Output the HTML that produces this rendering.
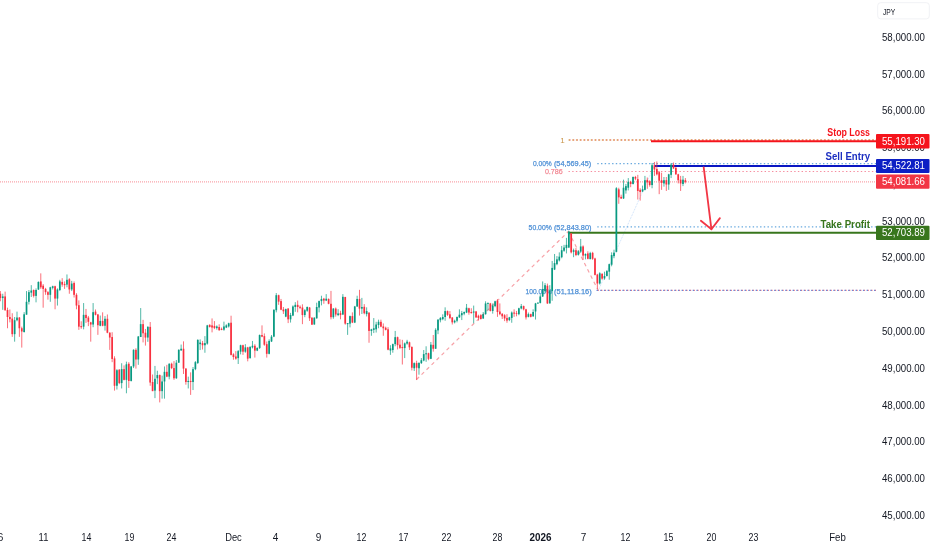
<!DOCTYPE html>
<html><head><meta charset="utf-8"><title>Chart</title>
<style>html,body{margin:0;padding:0;background:#fff}svg{display:block}text{font-family:"Liberation Sans",sans-serif}</style></head><body>
<svg width="932" height="550" viewBox="0 0 932 550">
<rect width="932" height="550" fill="#ffffff"/>
<line x1="0" y1="181.9" x2="876" y2="181.9" stroke="#f23645" stroke-width="1.4" stroke-dasharray="1 1" opacity="0.45"/>
<line x1="416.5" y1="379.5" x2="568.6" y2="231.3" stroke="#f7a1a7" stroke-width="1.2" stroke-dasharray="3.6 3.4"/>
<line x1="568.6" y1="231.7" x2="598.3" y2="290.5" stroke="#f7a1a7" stroke-width="1.2" stroke-dasharray="3.6 3.4"/>
<line x1="598.3" y1="290.5" x2="655" y2="164" stroke="#9cc4f5" stroke-width="0.6" stroke-dasharray="0.8 0.9"/>
<line x1="568.5" y1="140" x2="876" y2="140" stroke="#f0505a" stroke-width="1.2" stroke-dasharray="1.4 2.3" stroke-dashoffset="-0.7"/>
<line x1="568.5" y1="140" x2="876" y2="140" stroke="#c9982a" stroke-width="1.2" stroke-dasharray="1.4 2.3"/>
<line x1="597.3" y1="163.6" x2="876" y2="163.6" stroke="#4f9bd9" stroke-width="1.2" stroke-dasharray="1.4 2.3" opacity="0.85"/>
<line x1="568.5" y1="171.5" x2="876" y2="171.5" stroke="#f57a8f" stroke-width="1.2" stroke-dasharray="1.4 2.3" opacity="0.85"/>
<line x1="597.3" y1="226.9" x2="876" y2="226.9" stroke="#4f9bd9" stroke-width="1.2" stroke-dasharray="1.4 2.3" opacity="0.85"/>
<line x1="596.5" y1="290.3" x2="876" y2="290.3" stroke="#f0606e" stroke-width="1.2" stroke-dasharray="1.4 2.3" opacity="0.85" stroke-dashoffset="-0.8"/>
<line x1="596.5" y1="290.4" x2="876" y2="290.4" stroke="#4f7fd9" stroke-width="1.2" stroke-dasharray="1.4 2.3" opacity="0.85"/>
<text x="560.2" y="142.8" font-size="8" fill="#c9954a" text-anchor="start" font-weight="normal">1</text>
<text x="532.9" y="166.0" font-size="8" fill="#4d8fd6" text-anchor="start" font-weight="normal" textLength="18.9" lengthAdjust="spacingAndGlyphs" stroke-width="0.25" stroke="#4d8fd6">0.00%</text>
<text x="553.9" y="166.0" font-size="8" fill="#4d8fd6" text-anchor="start" font-weight="normal" textLength="37.4" lengthAdjust="spacingAndGlyphs" stroke-width="0.25" stroke="#4d8fd6">(54,569.45)</text>
<text x="544.9" y="173.7" font-size="8" fill="#f28b96" text-anchor="start" font-weight="normal" textLength="17.8" lengthAdjust="spacingAndGlyphs" stroke-width="0.25" stroke="#f28b96">0.786</text>
<text x="528.6" y="229.8" font-size="8" fill="#4d8fd6" text-anchor="start" font-weight="normal" textLength="23.2" lengthAdjust="spacingAndGlyphs" stroke-width="0.25" stroke="#4d8fd6">50.00%</text>
<text x="553.9" y="229.8" font-size="8" fill="#4d8fd6" text-anchor="start" font-weight="normal" textLength="37.6" lengthAdjust="spacingAndGlyphs" stroke-width="0.25" stroke="#4d8fd6">(52,843.80)</text>
<text x="525.6" y="293.6" font-size="8" fill="#4d8fd6" text-anchor="start" font-weight="normal" textLength="26.2" lengthAdjust="spacingAndGlyphs" stroke-width="0.25" stroke="#4d8fd6">100.00%</text>
<text x="554.1" y="293.6" font-size="8" fill="#4d8fd6" text-anchor="start" font-weight="normal" textLength="37.6" lengthAdjust="spacingAndGlyphs" stroke-width="0.25" stroke="#4d8fd6">(51,118.16)</text>
<line x1="651" y1="141.3" x2="876" y2="141.3" stroke="#f5141c" stroke-width="1.9"/>
<line x1="655" y1="166" x2="876" y2="166" stroke="#0a16c2" stroke-width="2.1"/>
<line x1="568.6" y1="232.7" x2="876" y2="232.7" stroke="#38761d" stroke-width="2.1"/>
<g><line x1="0.36" y1="291.07" x2="0.36" y2="301.26" stroke="#f8303f" stroke-width="0.7"/><rect x="-0.49" y="293.75" width="1.7" height="4.29" fill="#f8303f"/><line x1="2.74" y1="293.75" x2="2.74" y2="309.85" stroke="#089981" stroke-width="0.7"/><rect x="1.89" y="296.43" width="1.7" height="1.61" fill="#089981"/><line x1="5.12" y1="291.61" x2="5.12" y2="310.38" stroke="#f8303f" stroke-width="0.7"/><rect x="4.27" y="296.43" width="1.7" height="13.95" fill="#f8303f"/><line x1="7.5" y1="307.66" x2="7.5" y2="328.26" stroke="#f8303f" stroke-width="0.7"/><rect x="6.65" y="310.02" width="1.7" height="6.98" fill="#f8303f"/><line x1="9.87" y1="309.48" x2="9.87" y2="322.36" stroke="#f8303f" stroke-width="0.7"/><rect x="9.02" y="317.0" width="1.7" height="2.14" fill="#f8303f"/><line x1="12.25" y1="313.24" x2="12.25" y2="336.85" stroke="#f8303f" stroke-width="0.7"/><rect x="11.4" y="318.61" width="1.7" height="15.55" fill="#f8303f"/><line x1="14.63" y1="317.0" x2="14.63" y2="341.67" stroke="#089981" stroke-width="0.7"/><rect x="13.78" y="320.21" width="1.7" height="13.95" fill="#089981"/><line x1="17.01" y1="311.63" x2="17.01" y2="321.29" stroke="#089981" stroke-width="0.7"/><rect x="16.16" y="317.53" width="1.7" height="2.68" fill="#089981"/><line x1="19.39" y1="317.0" x2="19.39" y2="336.85" stroke="#f8303f" stroke-width="0.7"/><rect x="18.54" y="317.53" width="1.7" height="10.73" fill="#f8303f"/><line x1="21.77" y1="326.65" x2="21.77" y2="347.58" stroke="#f8303f" stroke-width="0.7"/><rect x="20.92" y="328.26" width="1.7" height="3.22" fill="#f8303f"/><line x1="24.15" y1="312.17" x2="24.15" y2="332.55" stroke="#089981" stroke-width="0.7"/><rect x="23.3" y="314.31" width="1.7" height="17.71" fill="#089981"/><line x1="26.52" y1="291.07" x2="26.52" y2="314.67" stroke="#089981" stroke-width="0.7"/><rect x="25.67" y="301.8" width="1.7" height="12.87" fill="#089981"/><line x1="28.9" y1="290.0" x2="28.9" y2="304.48" stroke="#089981" stroke-width="0.7"/><rect x="28.05" y="292.14" width="1.7" height="9.66" fill="#089981"/><line x1="31.28" y1="285.17" x2="31.28" y2="296.97" stroke="#089981" stroke-width="0.7"/><rect x="30.43" y="290.53" width="1.7" height="2.15" fill="#089981"/><line x1="33.66" y1="289.46" x2="33.66" y2="297.51" stroke="#f8303f" stroke-width="0.7"/><rect x="32.81" y="290.0" width="1.7" height="5.9" fill="#f8303f"/><line x1="36.04" y1="288.39" x2="36.04" y2="302.33" stroke="#089981" stroke-width="0.7"/><rect x="35.19" y="290.0" width="1.7" height="5.9" fill="#089981"/><line x1="38.42" y1="281.41" x2="38.42" y2="290.0" stroke="#089981" stroke-width="0.7"/><rect x="37.57" y="281.95" width="1.7" height="7.51" fill="#089981"/><line x1="40.79" y1="273.36" x2="40.79" y2="288.92" stroke="#f8303f" stroke-width="0.7"/><rect x="39.94" y="281.41" width="1.7" height="5.9" fill="#f8303f"/><line x1="43.17" y1="284.09" x2="43.17" y2="307.7" stroke="#f8303f" stroke-width="0.7"/><rect x="42.32" y="285.7" width="1.7" height="3.22" fill="#f8303f"/><line x1="45.55" y1="287.85" x2="45.55" y2="294.82" stroke="#f8303f" stroke-width="0.7"/><rect x="44.7" y="288.92" width="1.7" height="3.22" fill="#f8303f"/><line x1="47.93" y1="291.07" x2="47.93" y2="299.65" stroke="#f8303f" stroke-width="0.7"/><rect x="47.08" y="292.14" width="1.7" height="2.68" fill="#f8303f"/><line x1="50.31" y1="286.78" x2="50.31" y2="301.8" stroke="#089981" stroke-width="0.7"/><rect x="49.46" y="287.31" width="1.7" height="7.51" fill="#089981"/><line x1="52.69" y1="285.7" x2="52.69" y2="289.46" stroke="#089981" stroke-width="0.7"/><rect x="51.84" y="286.24" width="1.7" height="1.61" fill="#089981"/><line x1="55.07" y1="285.7" x2="55.07" y2="309.31" stroke="#f8303f" stroke-width="0.7"/><rect x="54.22" y="286.24" width="1.7" height="12.34" fill="#f8303f"/><line x1="57.44" y1="288.39" x2="57.44" y2="305.55" stroke="#089981" stroke-width="0.7"/><rect x="56.59" y="289.46" width="1.7" height="9.12" fill="#089981"/><line x1="59.82" y1="279.8" x2="59.82" y2="291.07" stroke="#089981" stroke-width="0.7"/><rect x="58.97" y="281.41" width="1.7" height="8.59" fill="#089981"/><line x1="62.2" y1="278.19" x2="62.2" y2="286.78" stroke="#f8303f" stroke-width="0.7"/><rect x="61.35" y="281.95" width="1.7" height="2.68" fill="#f8303f"/><line x1="64.58" y1="281.41" x2="64.58" y2="288.92" stroke="#f8303f" stroke-width="0.7"/><rect x="63.73" y="284.09" width="1.7" height="1.08" fill="#f8303f"/><line x1="66.96" y1="274.44" x2="66.96" y2="287.31" stroke="#089981" stroke-width="0.7"/><rect x="66.11" y="279.8" width="1.7" height="4.83" fill="#089981"/><line x1="69.34" y1="278.19" x2="69.34" y2="293.75" stroke="#f8303f" stroke-width="0.7"/><rect x="68.49" y="279.27" width="1.7" height="10.19" fill="#f8303f"/><line x1="71.72" y1="280.88" x2="71.72" y2="291.07" stroke="#089981" stroke-width="0.7"/><rect x="70.87" y="283.56" width="1.7" height="5.9" fill="#089981"/><line x1="74.09" y1="281.41" x2="74.09" y2="297.51" stroke="#f8303f" stroke-width="0.7"/><rect x="73.24" y="283.02" width="1.7" height="11.8" fill="#f8303f"/><line x1="76.47" y1="293.21" x2="76.47" y2="309.31" stroke="#f8303f" stroke-width="0.7"/><rect x="75.62" y="294.82" width="1.7" height="10.73" fill="#f8303f"/><line x1="78.85" y1="300.36" x2="78.85" y2="329.87" stroke="#f8303f" stroke-width="0.7"/><rect x="78.0" y="305.19" width="1.7" height="21.46" fill="#f8303f"/><line x1="81.23" y1="321.29" x2="81.23" y2="328.8" stroke="#f8303f" stroke-width="0.7"/><rect x="80.38" y="326.12" width="1.7" height="1.07" fill="#f8303f"/><line x1="83.61" y1="303.05" x2="83.61" y2="329.33" stroke="#089981" stroke-width="0.7"/><rect x="82.76" y="314.85" width="1.7" height="11.8" fill="#089981"/><line x1="85.99" y1="308.95" x2="85.99" y2="322.9" stroke="#f8303f" stroke-width="0.7"/><rect x="85.14" y="314.85" width="1.7" height="3.22" fill="#f8303f"/><line x1="88.36" y1="315.92" x2="88.36" y2="326.12" stroke="#f8303f" stroke-width="0.7"/><rect x="87.51" y="317.53" width="1.7" height="4.29" fill="#f8303f"/><line x1="90.74" y1="321.82" x2="90.74" y2="341.67" stroke="#f8303f" stroke-width="0.7"/><rect x="89.89" y="322.36" width="1.7" height="2.15" fill="#f8303f"/><line x1="93.12" y1="303.05" x2="93.12" y2="327.19" stroke="#089981" stroke-width="0.7"/><rect x="92.27" y="312.17" width="1.7" height="12.34" fill="#089981"/><line x1="95.5" y1="309.48" x2="95.5" y2="315.39" stroke="#f8303f" stroke-width="0.7"/><rect x="94.65" y="311.63" width="1.7" height="3.22" fill="#f8303f"/><line x1="97.88" y1="313.95" x2="97.88" y2="334.87" stroke="#f8303f" stroke-width="0.7"/><rect x="97.03" y="314.48" width="1.7" height="10.73" fill="#f8303f"/><line x1="100.26" y1="315.56" x2="100.26" y2="326.29" stroke="#089981" stroke-width="0.7"/><rect x="99.41" y="320.92" width="1.7" height="4.83" fill="#089981"/><line x1="102.64" y1="312.34" x2="102.64" y2="326.29" stroke="#f8303f" stroke-width="0.7"/><rect x="101.79" y="320.92" width="1.7" height="4.83" fill="#f8303f"/><line x1="105.01" y1="316.09" x2="105.01" y2="330.58" stroke="#089981" stroke-width="0.7"/><rect x="104.16" y="318.78" width="1.7" height="6.97" fill="#089981"/><line x1="107.39" y1="314.48" x2="107.39" y2="333.26" stroke="#f8303f" stroke-width="0.7"/><rect x="106.54" y="318.78" width="1.7" height="13.95" fill="#f8303f"/><line x1="109.77" y1="332.19" x2="109.77" y2="349.89" stroke="#f8303f" stroke-width="0.7"/><rect x="108.92" y="332.73" width="1.7" height="4.82" fill="#f8303f"/><line x1="112.15" y1="332.23" x2="112.15" y2="362.17" stroke="#f8303f" stroke-width="0.7"/><rect x="111.3" y="337.06" width="1.7" height="21.89" fill="#f8303f"/><line x1="114.53" y1="356.27" x2="114.53" y2="390.6" stroke="#f8303f" stroke-width="0.7"/><rect x="113.68" y="358.41" width="1.7" height="27.36" fill="#f8303f"/><line x1="116.91" y1="369.14" x2="116.91" y2="389.53" stroke="#089981" stroke-width="0.7"/><rect x="116.06" y="370.21" width="1.7" height="15.56" fill="#089981"/><line x1="119.29" y1="369.14" x2="119.29" y2="384.16" stroke="#f8303f" stroke-width="0.7"/><rect x="118.44" y="369.68" width="1.7" height="13.41" fill="#f8303f"/><line x1="121.66" y1="363.24" x2="121.66" y2="388.45" stroke="#089981" stroke-width="0.7"/><rect x="120.81" y="369.14" width="1.7" height="13.95" fill="#089981"/><line x1="124.04" y1="365.39" x2="124.04" y2="380.41" stroke="#f8303f" stroke-width="0.7"/><rect x="123.19" y="369.14" width="1.7" height="10.73" fill="#f8303f"/><line x1="126.42" y1="361.63" x2="126.42" y2="393.28" stroke="#089981" stroke-width="0.7"/><rect x="125.57" y="364.31" width="1.7" height="15.56" fill="#089981"/><line x1="128.8" y1="362.17" x2="128.8" y2="387.92" stroke="#f8303f" stroke-width="0.7"/><rect x="127.95" y="363.78" width="1.7" height="17.16" fill="#f8303f"/><line x1="131.18" y1="365.92" x2="131.18" y2="381.48" stroke="#089981" stroke-width="0.7"/><rect x="130.33" y="366.46" width="1.7" height="14.48" fill="#089981"/><line x1="133.56" y1="349.29" x2="133.56" y2="368.07" stroke="#089981" stroke-width="0.7"/><rect x="132.71" y="349.83" width="1.7" height="16.63" fill="#089981"/><line x1="135.93" y1="348.22" x2="135.93" y2="368.61" stroke="#f8303f" stroke-width="0.7"/><rect x="135.08" y="349.83" width="1.7" height="9.65" fill="#f8303f"/><line x1="138.31" y1="335.99" x2="138.31" y2="364.85" stroke="#089981" stroke-width="0.7"/><rect x="137.46" y="336.52" width="1.7" height="22.96" fill="#089981"/><line x1="140.69" y1="308.05" x2="140.69" y2="337.02" stroke="#089981" stroke-width="0.7"/><rect x="139.84" y="324.14" width="1.7" height="12.88" fill="#089981"/><line x1="143.07" y1="319.85" x2="143.07" y2="342.38" stroke="#f8303f" stroke-width="0.7"/><rect x="142.22" y="324.14" width="1.7" height="9.12" fill="#f8303f"/><line x1="145.45" y1="328.97" x2="145.45" y2="345.6" stroke="#f8303f" stroke-width="0.7"/><rect x="144.6" y="332.73" width="1.7" height="4.82" fill="#f8303f"/><line x1="147.83" y1="326.29" x2="147.83" y2="341.85" stroke="#089981" stroke-width="0.7"/><rect x="146.98" y="326.82" width="1.7" height="10.73" fill="#089981"/><line x1="150.21" y1="322.04" x2="150.21" y2="385.77" stroke="#f8303f" stroke-width="0.7"/><rect x="149.36" y="326.87" width="1.7" height="55.68" fill="#f8303f"/><line x1="152.58" y1="374.51" x2="152.58" y2="391.14" stroke="#f8303f" stroke-width="0.7"/><rect x="151.73" y="382.02" width="1.7" height="9.12" fill="#f8303f"/><line x1="154.96" y1="365.92" x2="154.96" y2="398.11" stroke="#089981" stroke-width="0.7"/><rect x="154.11" y="378.8" width="1.7" height="11.8" fill="#089981"/><line x1="157.34" y1="370.75" x2="157.34" y2="384.16" stroke="#089981" stroke-width="0.7"/><rect x="156.49" y="375.04" width="1.7" height="3.22" fill="#089981"/><line x1="159.72" y1="374.51" x2="159.72" y2="402.4" stroke="#f8303f" stroke-width="0.7"/><rect x="158.87" y="375.04" width="1.7" height="16.1" fill="#f8303f"/><line x1="162.1" y1="375.58" x2="162.1" y2="398.65" stroke="#089981" stroke-width="0.7"/><rect x="161.25" y="381.48" width="1.7" height="9.66" fill="#089981"/><line x1="164.48" y1="366.46" x2="164.48" y2="398.65" stroke="#089981" stroke-width="0.7"/><rect x="163.63" y="371.82" width="1.7" height="9.66" fill="#089981"/><line x1="166.86" y1="364.85" x2="166.86" y2="377.19" stroke="#f8303f" stroke-width="0.7"/><rect x="166.01" y="371.82" width="1.7" height="4.83" fill="#f8303f"/><line x1="169.23" y1="363.24" x2="169.23" y2="379.33" stroke="#089981" stroke-width="0.7"/><rect x="168.38" y="363.78" width="1.7" height="12.87" fill="#089981"/><line x1="171.61" y1="362.7" x2="171.61" y2="369.14" stroke="#f8303f" stroke-width="0.7"/><rect x="170.76" y="363.78" width="1.7" height="4.29" fill="#f8303f"/><line x1="173.99" y1="361.09" x2="173.99" y2="379.87" stroke="#f8303f" stroke-width="0.7"/><rect x="173.14" y="368.07" width="1.7" height="10.19" fill="#f8303f"/><line x1="176.37" y1="360.02" x2="176.37" y2="378.8" stroke="#089981" stroke-width="0.7"/><rect x="175.52" y="362.7" width="1.7" height="15.56" fill="#089981"/><line x1="178.75" y1="349.29" x2="178.75" y2="362.7" stroke="#089981" stroke-width="0.7"/><rect x="177.9" y="349.83" width="1.7" height="12.87" fill="#089981"/><line x1="181.13" y1="344.57" x2="181.13" y2="350.9" stroke="#089981" stroke-width="0.7"/><rect x="180.28" y="348.76" width="1.7" height="1.6" fill="#089981"/><line x1="183.5" y1="341.35" x2="183.5" y2="373.97" stroke="#f8303f" stroke-width="0.7"/><rect x="182.65" y="348.76" width="1.7" height="19.85" fill="#f8303f"/><line x1="185.88" y1="368.07" x2="185.88" y2="384.7" stroke="#f8303f" stroke-width="0.7"/><rect x="185.03" y="368.61" width="1.7" height="13.41" fill="#f8303f"/><line x1="188.26" y1="376.65" x2="188.26" y2="388.45" stroke="#089981" stroke-width="0.7"/><rect x="187.41" y="380.94" width="1.7" height="1.08" fill="#089981"/><line x1="190.64" y1="372.36" x2="190.64" y2="394.89" stroke="#f8303f" stroke-width="0.7"/><rect x="189.79" y="380.94" width="1.7" height="1.08" fill="#f8303f"/><line x1="193.02" y1="367.0" x2="193.02" y2="390.06" stroke="#089981" stroke-width="0.7"/><rect x="192.17" y="369.14" width="1.7" height="12.88" fill="#089981"/><line x1="195.4" y1="361.09" x2="195.4" y2="370.21" stroke="#089981" stroke-width="0.7"/><rect x="194.55" y="362.17" width="1.7" height="6.97" fill="#089981"/><line x1="197.78" y1="339.33" x2="197.78" y2="364.01" stroke="#089981" stroke-width="0.7"/><rect x="196.93" y="339.87" width="1.7" height="23.07" fill="#089981"/><line x1="200.15" y1="339.33" x2="200.15" y2="350.06" stroke="#089981" stroke-width="0.7"/><rect x="199.3" y="342.55" width="1.7" height="1.61" fill="#089981"/><line x1="202.53" y1="340.94" x2="202.53" y2="349.53" stroke="#f8303f" stroke-width="0.7"/><rect x="201.68" y="343.09" width="1.7" height="2.15" fill="#f8303f"/><line x1="204.91" y1="336.12" x2="204.91" y2="352.75" stroke="#089981" stroke-width="0.7"/><rect x="204.06" y="343.09" width="1.7" height="2.15" fill="#089981"/><line x1="207.29" y1="324.85" x2="207.29" y2="344.7" stroke="#089981" stroke-width="0.7"/><rect x="206.44" y="325.39" width="1.7" height="18.24" fill="#089981"/><line x1="209.67" y1="324.31" x2="209.67" y2="327.53" stroke="#f8303f" stroke-width="0.7"/><rect x="208.82" y="324.85" width="1.7" height="2.15" fill="#f8303f"/><line x1="212.05" y1="318.41" x2="212.05" y2="332.36" stroke="#f8303f" stroke-width="0.7"/><rect x="211.2" y="325.39" width="1.7" height="2.14" fill="#f8303f"/><line x1="214.43" y1="321.09" x2="214.43" y2="329.14" stroke="#f8303f" stroke-width="0.7"/><rect x="213.58" y="325.92" width="1.7" height="2.15" fill="#f8303f"/><line x1="216.8" y1="325.39" x2="216.8" y2="329.68" stroke="#089981" stroke-width="0.7"/><rect x="215.95" y="326.46" width="1.7" height="1.61" fill="#089981"/><line x1="219.18" y1="324.31" x2="219.18" y2="330.75" stroke="#f8303f" stroke-width="0.7"/><rect x="218.33" y="327.0" width="1.7" height="3.21" fill="#f8303f"/><line x1="221.56" y1="327.53" x2="221.56" y2="330.21" stroke="#f8303f" stroke-width="0.7"/><rect x="220.71" y="328.82" width="1.7" height="1.07" fill="#f8303f"/><line x1="223.94" y1="321.63" x2="223.94" y2="330.75" stroke="#089981" stroke-width="0.7"/><rect x="223.09" y="326.46" width="1.7" height="3.22" fill="#089981"/><line x1="226.32" y1="324.31" x2="226.32" y2="328.07" stroke="#089981" stroke-width="0.7"/><rect x="225.47" y="325.39" width="1.7" height="2.14" fill="#089981"/><line x1="228.7" y1="322.7" x2="228.7" y2="327.53" stroke="#089981" stroke-width="0.7"/><rect x="227.85" y="323.24" width="1.7" height="3.22" fill="#089981"/><line x1="231.07" y1="315.73" x2="231.07" y2="355.43" stroke="#f8303f" stroke-width="0.7"/><rect x="230.22" y="322.7" width="1.7" height="32.19" fill="#f8303f"/><line x1="233.45" y1="353.28" x2="233.45" y2="359.72" stroke="#f8303f" stroke-width="0.7"/><rect x="232.6" y="354.36" width="1.7" height="2.68" fill="#f8303f"/><line x1="235.83" y1="351.14" x2="235.83" y2="359.72" stroke="#f8303f" stroke-width="0.7"/><rect x="234.98" y="356.5" width="1.7" height="2.15" fill="#f8303f"/><line x1="238.21" y1="350.06" x2="238.21" y2="364.01" stroke="#089981" stroke-width="0.7"/><rect x="237.36" y="351.14" width="1.7" height="6.97" fill="#089981"/><line x1="240.59" y1="344.7" x2="240.59" y2="354.36" stroke="#089981" stroke-width="0.7"/><rect x="239.74" y="345.24" width="1.7" height="6.43" fill="#089981"/><line x1="242.97" y1="344.7" x2="242.97" y2="354.89" stroke="#f8303f" stroke-width="0.7"/><rect x="242.12" y="345.24" width="1.7" height="6.43" fill="#f8303f"/><line x1="245.35" y1="344.16" x2="245.35" y2="352.75" stroke="#089981" stroke-width="0.7"/><rect x="244.5" y="347.38" width="1.7" height="4.29" fill="#089981"/><line x1="247.72" y1="346.85" x2="247.72" y2="361.33" stroke="#f8303f" stroke-width="0.7"/><rect x="246.87" y="347.38" width="1.7" height="11.27" fill="#f8303f"/><line x1="250.1" y1="346.31" x2="250.1" y2="358.65" stroke="#089981" stroke-width="0.7"/><rect x="249.25" y="346.85" width="1.7" height="11.26" fill="#089981"/><line x1="252.48" y1="340.94" x2="252.48" y2="348.45" stroke="#089981" stroke-width="0.7"/><rect x="251.63" y="345.77" width="1.7" height="1.61" fill="#089981"/><line x1="254.86" y1="344.16" x2="254.86" y2="357.58" stroke="#f8303f" stroke-width="0.7"/><rect x="254.01" y="345.77" width="1.7" height="4.83" fill="#f8303f"/><line x1="257.24" y1="347.38" x2="257.24" y2="351.14" stroke="#089981" stroke-width="0.7"/><rect x="256.39" y="347.92" width="1.7" height="2.68" fill="#089981"/><line x1="259.62" y1="334.51" x2="259.62" y2="348.99" stroke="#089981" stroke-width="0.7"/><rect x="258.77" y="335.04" width="1.7" height="12.88" fill="#089981"/><line x1="262.0" y1="325.39" x2="262.0" y2="337.19" stroke="#f8303f" stroke-width="0.7"/><rect x="261.15" y="335.04" width="1.7" height="1.61" fill="#f8303f"/><line x1="264.37" y1="333.43" x2="264.37" y2="345.77" stroke="#f8303f" stroke-width="0.7"/><rect x="263.52" y="336.12" width="1.7" height="8.58" fill="#f8303f"/><line x1="266.75" y1="341.48" x2="266.75" y2="357.58" stroke="#f8303f" stroke-width="0.7"/><rect x="265.9" y="344.16" width="1.7" height="9.66" fill="#f8303f"/><line x1="269.13" y1="339.33" x2="269.13" y2="354.36" stroke="#089981" stroke-width="0.7"/><rect x="268.28" y="340.94" width="1.7" height="12.88" fill="#089981"/><line x1="271.51" y1="335.04" x2="271.51" y2="342.02" stroke="#089981" stroke-width="0.7"/><rect x="270.66" y="336.65" width="1.7" height="4.83" fill="#089981"/><line x1="273.89" y1="309.25" x2="273.89" y2="337.15" stroke="#089981" stroke-width="0.7"/><rect x="273.04" y="309.79" width="1.7" height="26.82" fill="#089981"/><line x1="276.27" y1="293.05" x2="276.27" y2="312.36" stroke="#089981" stroke-width="0.7"/><rect x="275.42" y="295.19" width="1.7" height="15.02" fill="#089981"/><line x1="278.64" y1="294.66" x2="278.64" y2="304.85" stroke="#f8303f" stroke-width="0.7"/><rect x="277.79" y="295.19" width="1.7" height="6.44" fill="#f8303f"/><line x1="281.02" y1="298.95" x2="281.02" y2="310.21" stroke="#f8303f" stroke-width="0.7"/><rect x="280.17" y="301.09" width="1.7" height="8.59" fill="#f8303f"/><line x1="283.4" y1="307.0" x2="283.4" y2="313.97" stroke="#f8303f" stroke-width="0.7"/><rect x="282.55" y="309.46" width="1.7" height="1.83" fill="#f8303f"/><line x1="285.78" y1="308.61" x2="285.78" y2="317.19" stroke="#089981" stroke-width="0.7"/><rect x="284.93" y="309.14" width="1.7" height="7.51" fill="#089981"/><line x1="288.16" y1="308.07" x2="288.16" y2="323.09" stroke="#f8303f" stroke-width="0.7"/><rect x="287.31" y="308.61" width="1.7" height="10.72" fill="#f8303f"/><line x1="290.54" y1="312.9" x2="290.54" y2="322.55" stroke="#089981" stroke-width="0.7"/><rect x="289.69" y="315.04" width="1.7" height="4.29" fill="#089981"/><line x1="292.92" y1="305.39" x2="292.92" y2="316.12" stroke="#089981" stroke-width="0.7"/><rect x="292.07" y="306.46" width="1.7" height="9.12" fill="#089981"/><line x1="295.29" y1="302.17" x2="295.29" y2="311.82" stroke="#089981" stroke-width="0.7"/><rect x="294.44" y="304.85" width="1.7" height="2.15" fill="#089981"/><line x1="297.67" y1="300.56" x2="297.67" y2="312.36" stroke="#f8303f" stroke-width="0.7"/><rect x="296.82" y="304.85" width="1.7" height="2.15" fill="#f8303f"/><line x1="300.05" y1="305.39" x2="300.05" y2="309.14" stroke="#f8303f" stroke-width="0.7"/><rect x="299.2" y="306.78" width="1.7" height="1.07" fill="#f8303f"/><line x1="302.43" y1="304.31" x2="302.43" y2="324.16" stroke="#f8303f" stroke-width="0.7"/><rect x="301.58" y="307.53" width="1.7" height="7.51" fill="#f8303f"/><line x1="304.81" y1="309.14" x2="304.81" y2="317.19" stroke="#089981" stroke-width="0.7"/><rect x="303.96" y="310.21" width="1.7" height="4.83" fill="#089981"/><line x1="307.19" y1="306.46" x2="307.19" y2="311.82" stroke="#089981" stroke-width="0.7"/><rect x="306.34" y="307.0" width="1.7" height="3.75" fill="#089981"/><line x1="309.57" y1="307.0" x2="309.57" y2="320.94" stroke="#f8303f" stroke-width="0.7"/><rect x="308.72" y="307.53" width="1.7" height="10.73" fill="#f8303f"/><line x1="311.94" y1="317.19" x2="311.94" y2="324.7" stroke="#f8303f" stroke-width="0.7"/><rect x="311.09" y="317.73" width="1.7" height="6.97" fill="#f8303f"/><line x1="314.32" y1="317.19" x2="314.32" y2="324.7" stroke="#089981" stroke-width="0.7"/><rect x="313.47" y="317.73" width="1.7" height="6.75" fill="#089981"/><line x1="316.7" y1="302.7" x2="316.7" y2="318.8" stroke="#089981" stroke-width="0.7"/><rect x="315.85" y="307.0" width="1.7" height="11.26" fill="#089981"/><line x1="319.08" y1="300.56" x2="319.08" y2="312.36" stroke="#089981" stroke-width="0.7"/><rect x="318.23" y="301.09" width="1.7" height="6.44" fill="#089981"/><line x1="321.46" y1="295.73" x2="321.46" y2="305.39" stroke="#089981" stroke-width="0.7"/><rect x="320.61" y="298.95" width="1.7" height="2.14" fill="#089981"/><line x1="323.84" y1="297.88" x2="323.84" y2="303.78" stroke="#f8303f" stroke-width="0.7"/><rect x="322.99" y="298.73" width="1.7" height="1.83" fill="#f8303f"/><line x1="326.21" y1="294.12" x2="326.21" y2="301.09" stroke="#089981" stroke-width="0.7"/><rect x="325.36" y="298.73" width="1.7" height="1.83" fill="#089981"/><line x1="328.59" y1="298.41" x2="328.59" y2="304.31" stroke="#f8303f" stroke-width="0.7"/><rect x="327.74" y="298.95" width="1.7" height="4.83" fill="#f8303f"/><line x1="330.97" y1="290.9" x2="330.97" y2="319.33" stroke="#f8303f" stroke-width="0.7"/><rect x="330.12" y="303.78" width="1.7" height="13.41" fill="#f8303f"/><line x1="333.35" y1="308.07" x2="333.35" y2="318.8" stroke="#089981" stroke-width="0.7"/><rect x="332.5" y="308.61" width="1.7" height="8.58" fill="#089981"/><line x1="335.73" y1="307.53" x2="335.73" y2="316.65" stroke="#f8303f" stroke-width="0.7"/><rect x="334.88" y="308.61" width="1.7" height="5.9" fill="#f8303f"/><line x1="338.11" y1="309.14" x2="338.11" y2="316.12" stroke="#089981" stroke-width="0.7"/><rect x="337.26" y="313.43" width="1.7" height="1.61" fill="#089981"/><line x1="340.49" y1="310.75" x2="340.49" y2="319.33" stroke="#f8303f" stroke-width="0.7"/><rect x="339.64" y="313.11" width="1.7" height="1.93" fill="#f8303f"/><line x1="342.86" y1="294.12" x2="342.86" y2="315.04" stroke="#089981" stroke-width="0.7"/><rect x="342.01" y="296.8" width="1.7" height="17.71" fill="#089981"/><line x1="345.24" y1="296.8" x2="345.24" y2="324.7" stroke="#f8303f" stroke-width="0.7"/><rect x="344.39" y="297.02" width="1.7" height="26.61" fill="#f8303f"/><line x1="347.62" y1="323.09" x2="347.62" y2="334.89" stroke="#089981" stroke-width="0.7"/><rect x="346.77" y="323.09" width="1.7" height="1.07" fill="#089981"/><line x1="350.0" y1="315.58" x2="350.0" y2="327.38" stroke="#089981" stroke-width="0.7"/><rect x="349.15" y="316.12" width="1.7" height="7.51" fill="#089981"/><line x1="352.38" y1="312.36" x2="352.38" y2="323.09" stroke="#f8303f" stroke-width="0.7"/><rect x="351.53" y="316.12" width="1.7" height="6.43" fill="#f8303f"/><line x1="354.76" y1="305.92" x2="354.76" y2="323.09" stroke="#089981" stroke-width="0.7"/><rect x="353.91" y="306.46" width="1.7" height="16.09" fill="#089981"/><line x1="357.14" y1="295.73" x2="357.14" y2="307.0" stroke="#089981" stroke-width="0.7"/><rect x="356.29" y="298.95" width="1.7" height="7.51" fill="#089981"/><line x1="359.51" y1="289.83" x2="359.51" y2="315.58" stroke="#f8303f" stroke-width="0.7"/><rect x="358.66" y="298.95" width="1.7" height="9.66" fill="#f8303f"/><line x1="361.89" y1="297.9" x2="361.89" y2="313.99" stroke="#089981" stroke-width="0.7"/><rect x="361.04" y="307.02" width="1.7" height="1.61" fill="#089981"/><line x1="364.27" y1="304.12" x2="364.27" y2="314.31" stroke="#f8303f" stroke-width="0.7"/><rect x="363.42" y="306.8" width="1.7" height="6.44" fill="#f8303f"/><line x1="366.65" y1="307.34" x2="366.65" y2="316.46" stroke="#089981" stroke-width="0.7"/><rect x="365.8" y="311.09" width="1.7" height="3.01" fill="#089981"/><line x1="369.03" y1="312.17" x2="369.03" y2="342.75" stroke="#f8303f" stroke-width="0.7"/><rect x="368.18" y="312.7" width="1.7" height="18.24" fill="#f8303f"/><line x1="371.41" y1="328.8" x2="371.41" y2="335.77" stroke="#089981" stroke-width="0.7"/><rect x="370.56" y="329.33" width="1.7" height="1.61" fill="#089981"/><line x1="373.78" y1="318.07" x2="373.78" y2="333.09" stroke="#089981" stroke-width="0.7"/><rect x="372.93" y="328.26" width="1.7" height="1.61" fill="#089981"/><line x1="376.16" y1="321.82" x2="376.16" y2="332.55" stroke="#089981" stroke-width="0.7"/><rect x="375.31" y="324.51" width="1.7" height="4.82" fill="#089981"/><line x1="378.54" y1="319.68" x2="378.54" y2="328.26" stroke="#089981" stroke-width="0.7"/><rect x="377.69" y="321.82" width="1.7" height="3.22" fill="#089981"/><line x1="380.92" y1="319.68" x2="380.92" y2="327.19" stroke="#f8303f" stroke-width="0.7"/><rect x="380.07" y="321.82" width="1.7" height="4.83" fill="#f8303f"/><line x1="383.3" y1="323.43" x2="383.3" y2="335.77" stroke="#f8303f" stroke-width="0.7"/><rect x="382.45" y="326.44" width="1.7" height="1.82" fill="#f8303f"/><line x1="385.68" y1="326.65" x2="385.68" y2="330.41" stroke="#f8303f" stroke-width="0.7"/><rect x="384.83" y="327.73" width="1.7" height="2.14" fill="#f8303f"/><line x1="388.06" y1="327.19" x2="388.06" y2="350.26" stroke="#f8303f" stroke-width="0.7"/><rect x="387.21" y="329.33" width="1.7" height="20.39" fill="#f8303f"/><line x1="390.43" y1="345.19" x2="390.43" y2="354.85" stroke="#089981" stroke-width="0.7"/><rect x="389.58" y="348.41" width="1.7" height="2.15" fill="#089981"/><line x1="392.81" y1="343.58" x2="392.81" y2="352.7" stroke="#089981" stroke-width="0.7"/><rect x="391.96" y="344.12" width="1.7" height="5.9" fill="#089981"/><line x1="395.19" y1="330.92" x2="395.19" y2="346.27" stroke="#089981" stroke-width="0.7"/><rect x="394.34" y="337.15" width="1.7" height="6.97" fill="#089981"/><line x1="397.57" y1="336.61" x2="397.57" y2="349.48" stroke="#f8303f" stroke-width="0.7"/><rect x="396.72" y="337.15" width="1.7" height="8.04" fill="#f8303f"/><line x1="399.95" y1="339.29" x2="399.95" y2="348.95" stroke="#f8303f" stroke-width="0.7"/><rect x="399.1" y="344.66" width="1.7" height="3.22" fill="#f8303f"/><line x1="402.33" y1="339.83" x2="402.33" y2="364.51" stroke="#f8303f" stroke-width="0.7"/><rect x="401.48" y="347.02" width="1.7" height="1.07" fill="#f8303f"/><line x1="404.71" y1="342.51" x2="404.71" y2="358.07" stroke="#089981" stroke-width="0.7"/><rect x="403.86" y="343.37" width="1.7" height="4.72" fill="#089981"/><line x1="407.08" y1="339.83" x2="407.08" y2="344.66" stroke="#089981" stroke-width="0.7"/><rect x="406.23" y="341.65" width="1.7" height="1.93" fill="#089981"/><line x1="409.46" y1="341.65" x2="409.46" y2="350.02" stroke="#f8303f" stroke-width="0.7"/><rect x="408.61" y="342.3" width="1.7" height="5.04" fill="#f8303f"/><line x1="411.84" y1="346.27" x2="411.84" y2="370.41" stroke="#f8303f" stroke-width="0.7"/><rect x="410.99" y="347.02" width="1.7" height="20.71" fill="#f8303f"/><line x1="414.22" y1="362.36" x2="414.22" y2="370.94" stroke="#089981" stroke-width="0.7"/><rect x="413.37" y="363.11" width="1.7" height="5.15" fill="#089981"/><line x1="416.6" y1="360.75" x2="416.6" y2="380.06" stroke="#f8303f" stroke-width="0.7"/><rect x="415.75" y="363.11" width="1.7" height="4.62" fill="#f8303f"/><line x1="418.98" y1="362.36" x2="418.98" y2="374.7" stroke="#089981" stroke-width="0.7"/><rect x="418.13" y="362.9" width="1.7" height="5.36" fill="#089981"/><line x1="421.35" y1="358.07" x2="421.35" y2="363.97" stroke="#089981" stroke-width="0.7"/><rect x="420.5" y="360.21" width="1.7" height="2.9" fill="#089981"/><line x1="423.73" y1="350.02" x2="423.73" y2="361.29" stroke="#089981" stroke-width="0.7"/><rect x="422.88" y="354.1" width="1.7" height="6.44" fill="#089981"/><line x1="426.11" y1="346.27" x2="426.11" y2="361.82" stroke="#089981" stroke-width="0.7"/><rect x="425.26" y="353.24" width="1.7" height="1.07" fill="#089981"/><line x1="428.49" y1="352.7" x2="428.49" y2="360.21" stroke="#f8303f" stroke-width="0.7"/><rect x="427.64" y="353.24" width="1.7" height="5.58" fill="#f8303f"/><line x1="430.87" y1="341.97" x2="430.87" y2="359.14" stroke="#089981" stroke-width="0.7"/><rect x="430.02" y="344.66" width="1.7" height="14.16" fill="#089981"/><line x1="433.25" y1="335.0" x2="433.25" y2="351.63" stroke="#f8303f" stroke-width="0.7"/><rect x="432.4" y="344.87" width="1.7" height="3.86" fill="#f8303f"/><line x1="435.63" y1="328.24" x2="435.63" y2="348.95" stroke="#089981" stroke-width="0.7"/><rect x="434.78" y="329.85" width="1.7" height="18.88" fill="#089981"/><line x1="438.0" y1="319.14" x2="438.0" y2="334.16" stroke="#089981" stroke-width="0.7"/><rect x="437.15" y="319.68" width="1.7" height="10.73" fill="#089981"/><line x1="440.38" y1="317.0" x2="440.38" y2="322.36" stroke="#089981" stroke-width="0.7"/><rect x="439.53" y="318.07" width="1.7" height="2.14" fill="#089981"/><line x1="442.76" y1="314.31" x2="442.76" y2="320.21" stroke="#089981" stroke-width="0.7"/><rect x="441.91" y="317.0" width="1.7" height="2.14" fill="#089981"/><line x1="445.14" y1="307.34" x2="445.14" y2="320.75" stroke="#089981" stroke-width="0.7"/><rect x="444.29" y="311.09" width="1.7" height="5.91" fill="#089981"/><line x1="447.52" y1="310.56" x2="447.52" y2="315.92" stroke="#f8303f" stroke-width="0.7"/><rect x="446.67" y="311.09" width="1.7" height="3.76" fill="#f8303f"/><line x1="449.9" y1="311.09" x2="449.9" y2="319.14" stroke="#f8303f" stroke-width="0.7"/><rect x="449.05" y="314.31" width="1.7" height="3.76" fill="#f8303f"/><line x1="452.28" y1="317.0" x2="452.28" y2="324.51" stroke="#f8303f" stroke-width="0.7"/><rect x="451.43" y="317.53" width="1.7" height="4.83" fill="#f8303f"/><line x1="454.65" y1="319.68" x2="454.65" y2="323.43" stroke="#089981" stroke-width="0.7"/><rect x="453.8" y="320.75" width="1.7" height="1.61" fill="#089981"/><line x1="457.03" y1="316.46" x2="457.03" y2="322.36" stroke="#089981" stroke-width="0.7"/><rect x="456.18" y="317.0" width="1.7" height="3.75" fill="#089981"/><line x1="459.41" y1="309.33" x2="459.41" y2="317.92" stroke="#089981" stroke-width="0.7"/><rect x="458.56" y="314.7" width="1.7" height="2.68" fill="#089981"/><line x1="461.79" y1="310.94" x2="461.79" y2="320.06" stroke="#089981" stroke-width="0.7"/><rect x="460.94" y="313.09" width="1.7" height="2.15" fill="#089981"/><line x1="464.17" y1="311.48" x2="464.17" y2="315.24" stroke="#089981" stroke-width="0.7"/><rect x="463.32" y="312.02" width="1.7" height="1.61" fill="#089981"/><line x1="466.55" y1="303.97" x2="466.55" y2="313.09" stroke="#089981" stroke-width="0.7"/><rect x="465.7" y="307.73" width="1.7" height="4.82" fill="#089981"/><line x1="468.92" y1="307.73" x2="468.92" y2="314.7" stroke="#f8303f" stroke-width="0.7"/><rect x="468.07" y="308.26" width="1.7" height="4.29" fill="#f8303f"/><line x1="471.3" y1="308.26" x2="471.3" y2="313.63" stroke="#f8303f" stroke-width="0.7"/><rect x="470.45" y="312.02" width="1.7" height="1.07" fill="#f8303f"/><line x1="473.68" y1="305.58" x2="473.68" y2="323.28" stroke="#089981" stroke-width="0.7"/><rect x="472.83" y="311.48" width="1.7" height="1.07" fill="#089981"/><line x1="476.06" y1="310.94" x2="476.06" y2="317.92" stroke="#f8303f" stroke-width="0.7"/><rect x="475.21" y="311.48" width="1.7" height="5.9" fill="#f8303f"/><line x1="478.44" y1="314.7" x2="478.44" y2="320.6" stroke="#f8303f" stroke-width="0.7"/><rect x="477.59" y="315.77" width="1.7" height="2.15" fill="#f8303f"/><line x1="480.82" y1="314.16" x2="480.82" y2="319.53" stroke="#f8303f" stroke-width="0.7"/><rect x="479.97" y="315.24" width="1.7" height="3.75" fill="#f8303f"/><line x1="483.2" y1="312.02" x2="483.2" y2="318.99" stroke="#089981" stroke-width="0.7"/><rect x="482.35" y="314.16" width="1.7" height="4.29" fill="#089981"/><line x1="485.57" y1="301.29" x2="485.57" y2="314.7" stroke="#089981" stroke-width="0.7"/><rect x="484.72" y="303.43" width="1.7" height="10.73" fill="#089981"/><line x1="487.95" y1="302.36" x2="487.95" y2="310.41" stroke="#089981" stroke-width="0.7"/><rect x="487.1" y="303.11" width="1.7" height="0.86" fill="#089981"/><line x1="490.33" y1="302.9" x2="490.33" y2="311.48" stroke="#f8303f" stroke-width="0.7"/><rect x="489.48" y="303.43" width="1.7" height="7.51" fill="#f8303f"/><line x1="492.71" y1="303.43" x2="492.71" y2="313.63" stroke="#089981" stroke-width="0.7"/><rect x="491.86" y="305.58" width="1.7" height="5.36" fill="#089981"/><line x1="495.09" y1="300.75" x2="495.09" y2="307.19" stroke="#089981" stroke-width="0.7"/><rect x="494.24" y="301.29" width="1.7" height="4.83" fill="#089981"/><line x1="497.47" y1="299.14" x2="497.47" y2="316.85" stroke="#f8303f" stroke-width="0.7"/><rect x="496.62" y="300.75" width="1.7" height="11.27" fill="#f8303f"/><line x1="499.85" y1="303.43" x2="499.85" y2="315.24" stroke="#f8303f" stroke-width="0.7"/><rect x="499.0" y="311.48" width="1.7" height="2.68" fill="#f8303f"/><line x1="502.22" y1="313.09" x2="502.22" y2="318.99" stroke="#f8303f" stroke-width="0.7"/><rect x="501.37" y="313.84" width="1.7" height="2.47" fill="#f8303f"/><line x1="504.6" y1="314.16" x2="504.6" y2="321.14" stroke="#f8303f" stroke-width="0.7"/><rect x="503.75" y="315.24" width="1.7" height="3.21" fill="#f8303f"/><line x1="506.98" y1="314.16" x2="506.98" y2="322.75" stroke="#f8303f" stroke-width="0.7"/><rect x="506.13" y="317.92" width="1.7" height="2.68" fill="#f8303f"/><line x1="509.36" y1="316.85" x2="509.36" y2="321.14" stroke="#089981" stroke-width="0.7"/><rect x="508.51" y="317.38" width="1.7" height="2.68" fill="#089981"/><line x1="511.74" y1="311.48" x2="511.74" y2="322.75" stroke="#089981" stroke-width="0.7"/><rect x="510.89" y="312.55" width="1.7" height="5.37" fill="#089981"/><line x1="514.12" y1="309.33" x2="514.12" y2="316.85" stroke="#f8303f" stroke-width="0.7"/><rect x="513.27" y="312.55" width="1.7" height="1.08" fill="#f8303f"/><line x1="516.49" y1="310.94" x2="516.49" y2="316.31" stroke="#f8303f" stroke-width="0.7"/><rect x="515.64" y="313.09" width="1.7" height="0.75" fill="#f8303f"/><line x1="518.87" y1="307.73" x2="518.87" y2="315.24" stroke="#089981" stroke-width="0.7"/><rect x="518.02" y="308.26" width="1.7" height="5.9" fill="#089981"/><line x1="521.25" y1="303.97" x2="521.25" y2="309.33" stroke="#089981" stroke-width="0.7"/><rect x="520.4" y="306.12" width="1.7" height="2.36" fill="#089981"/><line x1="523.63" y1="305.58" x2="523.63" y2="310.41" stroke="#f8303f" stroke-width="0.7"/><rect x="522.78" y="306.12" width="1.7" height="3.21" fill="#f8303f"/><line x1="526.01" y1="308.8" x2="526.01" y2="319.53" stroke="#f8303f" stroke-width="0.7"/><rect x="525.16" y="309.33" width="1.7" height="8.05" fill="#f8303f"/><line x1="528.39" y1="312.55" x2="528.39" y2="317.38" stroke="#089981" stroke-width="0.7"/><rect x="527.54" y="314.16" width="1.7" height="2.69" fill="#089981"/><line x1="530.77" y1="313.63" x2="530.77" y2="317.38" stroke="#f8303f" stroke-width="0.7"/><rect x="529.92" y="314.16" width="1.7" height="2.69" fill="#f8303f"/><line x1="533.14" y1="309.33" x2="533.14" y2="316.85" stroke="#089981" stroke-width="0.7"/><rect x="532.29" y="312.02" width="1.7" height="4.29" fill="#089981"/><line x1="535.52" y1="302.9" x2="535.52" y2="319.53" stroke="#089981" stroke-width="0.7"/><rect x="534.67" y="303.43" width="1.7" height="8.05" fill="#089981"/><line x1="537.9" y1="302.36" x2="537.9" y2="303.97" stroke="#089981" stroke-width="0.7"/><rect x="537.05" y="302.68" width="1.7" height="0.86" fill="#089981"/><line x1="540.28" y1="294.31" x2="540.28" y2="303.43" stroke="#089981" stroke-width="0.7"/><rect x="539.43" y="296.46" width="1.7" height="6.44" fill="#089981"/><line x1="542.66" y1="281.44" x2="542.66" y2="297.0" stroke="#089981" stroke-width="0.7"/><rect x="541.81" y="288.95" width="1.7" height="7.51" fill="#089981"/><line x1="545.04" y1="283.05" x2="545.04" y2="292.7" stroke="#089981" stroke-width="0.7"/><rect x="544.19" y="285.19" width="1.7" height="5.9" fill="#089981"/><line x1="547.42" y1="283.58" x2="547.42" y2="303.97" stroke="#f8303f" stroke-width="0.7"/><rect x="546.57" y="285.73" width="1.7" height="17.7" fill="#f8303f"/><line x1="549.79" y1="285.19" x2="549.79" y2="303.43" stroke="#089981" stroke-width="0.7"/><rect x="548.94" y="290.56" width="1.7" height="12.87" fill="#089981"/><line x1="552.17" y1="260.94" x2="552.17" y2="300.75" stroke="#089981" stroke-width="0.7"/><rect x="551.32" y="267.92" width="1.7" height="23.17" fill="#089981"/><line x1="554.55" y1="253.97" x2="554.55" y2="270.06" stroke="#089981" stroke-width="0.7"/><rect x="553.7" y="263.09" width="1.7" height="6.44" fill="#089981"/><line x1="556.93" y1="256.12" x2="556.93" y2="265.24" stroke="#089981" stroke-width="0.7"/><rect x="556.08" y="259.33" width="1.7" height="4.83" fill="#089981"/><line x1="559.31" y1="252.36" x2="559.31" y2="261.48" stroke="#089981" stroke-width="0.7"/><rect x="558.46" y="256.65" width="1.7" height="3.76" fill="#089981"/><line x1="561.69" y1="245.92" x2="561.69" y2="258.26" stroke="#089981" stroke-width="0.7"/><rect x="560.84" y="250.21" width="1.7" height="6.98" fill="#089981"/><line x1="564.06" y1="244.85" x2="564.06" y2="251.82" stroke="#089981" stroke-width="0.7"/><rect x="563.21" y="247.53" width="1.7" height="3.22" fill="#089981"/><line x1="566.44" y1="237.88" x2="566.44" y2="253.43" stroke="#089981" stroke-width="0.7"/><rect x="565.59" y="244.85" width="1.7" height="3.22" fill="#089981"/><line x1="568.82" y1="230.9" x2="568.82" y2="248.07" stroke="#089981" stroke-width="0.7"/><rect x="567.97" y="231.65" width="1.7" height="15.88" fill="#089981"/><line x1="571.2" y1="233.05" x2="571.2" y2="253.43" stroke="#f8303f" stroke-width="0.7"/><rect x="570.35" y="233.37" width="1.7" height="18.99" fill="#f8303f"/><line x1="573.58" y1="248.61" x2="573.58" y2="257.19" stroke="#089981" stroke-width="0.7"/><rect x="572.73" y="250.21" width="1.7" height="1.61" fill="#089981"/><line x1="575.96" y1="248.07" x2="575.96" y2="256.12" stroke="#f8303f" stroke-width="0.7"/><rect x="575.11" y="250.21" width="1.7" height="4.83" fill="#f8303f"/><line x1="578.34" y1="250.21" x2="578.34" y2="255.58" stroke="#089981" stroke-width="0.7"/><rect x="577.49" y="251.29" width="1.7" height="3.54" fill="#089981"/><line x1="580.71" y1="238.95" x2="580.71" y2="252.9" stroke="#089981" stroke-width="0.7"/><rect x="579.86" y="246.46" width="1.7" height="5.15" fill="#089981"/><line x1="583.09" y1="245.39" x2="583.09" y2="259.87" stroke="#f8303f" stroke-width="0.7"/><rect x="582.24" y="246.46" width="1.7" height="9.12" fill="#f8303f"/><line x1="585.47" y1="253.43" x2="585.47" y2="259.33" stroke="#089981" stroke-width="0.7"/><rect x="584.62" y="253.97" width="1.7" height="1.61" fill="#089981"/><line x1="587.85" y1="251.29" x2="587.85" y2="259.33" stroke="#f8303f" stroke-width="0.7"/><rect x="587.0" y="253.43" width="1.7" height="5.37" fill="#f8303f"/><line x1="590.23" y1="251.82" x2="590.23" y2="259.33" stroke="#089981" stroke-width="0.7"/><rect x="589.38" y="253.11" width="1.7" height="6.01" fill="#089981"/><line x1="592.61" y1="251.82" x2="592.61" y2="259.87" stroke="#f8303f" stroke-width="0.7"/><rect x="591.76" y="252.9" width="1.7" height="5.9" fill="#f8303f"/><line x1="594.99" y1="257.73" x2="594.99" y2="275.43" stroke="#f8303f" stroke-width="0.7"/><rect x="594.14" y="258.48" width="1.7" height="16.41" fill="#f8303f"/><line x1="597.36" y1="273.82" x2="597.36" y2="288.84" stroke="#f8303f" stroke-width="0.7"/><rect x="596.51" y="274.57" width="1.7" height="8.91" fill="#f8303f"/><line x1="599.74" y1="272.21" x2="599.74" y2="284.55" stroke="#089981" stroke-width="0.7"/><rect x="598.89" y="273.28" width="1.7" height="10.2" fill="#089981"/><line x1="602.12" y1="273.28" x2="602.12" y2="279.72" stroke="#f8303f" stroke-width="0.7"/><rect x="601.27" y="273.82" width="1.7" height="4.83" fill="#f8303f"/><line x1="604.5" y1="271.67" x2="604.5" y2="279.72" stroke="#089981" stroke-width="0.7"/><rect x="603.65" y="275.97" width="1.7" height="2.46" fill="#089981"/><line x1="606.88" y1="270.06" x2="606.88" y2="276.5" stroke="#089981" stroke-width="0.7"/><rect x="606.03" y="271.14" width="1.7" height="4.83" fill="#089981"/><line x1="609.26" y1="263.63" x2="609.26" y2="279.72" stroke="#089981" stroke-width="0.7"/><rect x="608.41" y="264.16" width="1.7" height="7.51" fill="#089981"/><line x1="611.63" y1="252.36" x2="611.63" y2="266.31" stroke="#089981" stroke-width="0.7"/><rect x="610.78" y="255.04" width="1.7" height="9.66" fill="#089981"/><line x1="614.01" y1="249.68" x2="614.01" y2="258.26" stroke="#089981" stroke-width="0.7"/><rect x="613.16" y="252.68" width="1.7" height="3.44" fill="#089981"/><line x1="616.39" y1="187.19" x2="616.39" y2="252.32" stroke="#089981" stroke-width="0.7"/><rect x="615.54" y="188.26" width="1.7" height="63.52" fill="#089981"/><line x1="618.77" y1="187.73" x2="618.77" y2="203.82" stroke="#f8303f" stroke-width="0.7"/><rect x="617.92" y="189.33" width="1.7" height="8.05" fill="#f8303f"/><line x1="621.15" y1="194.7" x2="621.15" y2="198.99" stroke="#f8303f" stroke-width="0.7"/><rect x="620.3" y="196.85" width="1.7" height="1.6" fill="#f8303f"/><line x1="623.53" y1="179.68" x2="623.53" y2="198.99" stroke="#089981" stroke-width="0.7"/><rect x="622.68" y="187.73" width="1.7" height="10.72" fill="#089981"/><line x1="625.91" y1="183.97" x2="625.91" y2="193.63" stroke="#089981" stroke-width="0.7"/><rect x="625.06" y="186.12" width="1.7" height="4.29" fill="#089981"/><line x1="628.28" y1="178.07" x2="628.28" y2="190.41" stroke="#089981" stroke-width="0.7"/><rect x="627.43" y="181.82" width="1.7" height="5.91" fill="#089981"/><line x1="630.66" y1="180.75" x2="630.66" y2="187.19" stroke="#f8303f" stroke-width="0.7"/><rect x="629.81" y="181.82" width="1.7" height="2.15" fill="#f8303f"/><line x1="633.04" y1="176.46" x2="633.04" y2="184.51" stroke="#089981" stroke-width="0.7"/><rect x="632.19" y="177.0" width="1.7" height="6.97" fill="#089981"/><line x1="635.42" y1="175.92" x2="635.42" y2="180.21" stroke="#f8303f" stroke-width="0.7"/><rect x="634.57" y="177.0" width="1.7" height="1.61" fill="#f8303f"/><line x1="637.8" y1="174.85" x2="637.8" y2="199.53" stroke="#f8303f" stroke-width="0.7"/><rect x="636.95" y="179.14" width="1.7" height="11.8" fill="#f8303f"/><line x1="640.18" y1="188.26" x2="640.18" y2="200.6" stroke="#f8303f" stroke-width="0.7"/><rect x="639.33" y="189.87" width="1.7" height="2.15" fill="#f8303f"/><line x1="642.56" y1="185.58" x2="642.56" y2="192.02" stroke="#089981" stroke-width="0.7"/><rect x="641.71" y="189.33" width="1.7" height="2.15" fill="#089981"/><line x1="644.93" y1="175.92" x2="644.93" y2="190.41" stroke="#089981" stroke-width="0.7"/><rect x="644.08" y="180.21" width="1.7" height="9.66" fill="#089981"/><line x1="647.31" y1="177.53" x2="647.31" y2="188.8" stroke="#f8303f" stroke-width="0.7"/><rect x="646.46" y="179.89" width="1.7" height="2.47" fill="#f8303f"/><line x1="649.69" y1="180.21" x2="649.69" y2="186.65" stroke="#f8303f" stroke-width="0.7"/><rect x="648.84" y="181.29" width="1.7" height="3.75" fill="#f8303f"/><line x1="652.07" y1="163.05" x2="652.07" y2="188.26" stroke="#089981" stroke-width="0.7"/><rect x="651.22" y="165.19" width="1.7" height="19.85" fill="#089981"/><line x1="654.45" y1="161.97" x2="654.45" y2="175.92" stroke="#f8303f" stroke-width="0.7"/><rect x="653.6" y="165.19" width="1.7" height="4.29" fill="#f8303f"/><line x1="656.83" y1="161.44" x2="656.83" y2="175.39" stroke="#f8303f" stroke-width="0.7"/><rect x="655.98" y="168.95" width="1.7" height="5.36" fill="#f8303f"/><line x1="659.2" y1="171.09" x2="659.2" y2="194.16" stroke="#f8303f" stroke-width="0.7"/><rect x="658.35" y="172.17" width="1.7" height="8.58" fill="#f8303f"/><line x1="661.58" y1="172.7" x2="661.58" y2="189.87" stroke="#f8303f" stroke-width="0.7"/><rect x="660.73" y="180.21" width="1.7" height="2.69" fill="#f8303f"/><line x1="663.96" y1="177.0" x2="663.96" y2="186.65" stroke="#089981" stroke-width="0.7"/><rect x="663.11" y="180.21" width="1.7" height="3.22" fill="#089981"/><line x1="666.34" y1="177.0" x2="666.34" y2="190.94" stroke="#f8303f" stroke-width="0.7"/><rect x="665.49" y="180.21" width="1.7" height="4.3" fill="#f8303f"/><line x1="668.72" y1="173.78" x2="668.72" y2="189.87" stroke="#089981" stroke-width="0.7"/><rect x="667.87" y="174.31" width="1.7" height="10.2" fill="#089981"/><line x1="671.1" y1="163.05" x2="671.1" y2="178.07" stroke="#089981" stroke-width="0.7"/><rect x="670.25" y="164.66" width="1.7" height="10.19" fill="#089981"/><line x1="673.48" y1="162.51" x2="673.48" y2="168.95" stroke="#f8303f" stroke-width="0.7"/><rect x="672.63" y="164.66" width="1.7" height="3.75" fill="#f8303f"/><line x1="675.85" y1="166.8" x2="675.85" y2="174.85" stroke="#f8303f" stroke-width="0.7"/><rect x="675.0" y="167.88" width="1.7" height="6.43" fill="#f8303f"/><line x1="678.23" y1="173.78" x2="678.23" y2="183.43" stroke="#f8303f" stroke-width="0.7"/><rect x="677.38" y="174.31" width="1.7" height="5.9" fill="#f8303f"/><line x1="680.61" y1="175.92" x2="680.61" y2="190.94" stroke="#f8303f" stroke-width="0.7"/><rect x="679.76" y="179.68" width="1.7" height="3.75" fill="#f8303f"/><line x1="682.99" y1="175.92" x2="682.99" y2="186.12" stroke="#089981" stroke-width="0.7"/><rect x="682.14" y="179.68" width="1.7" height="4.29" fill="#089981"/><line x1="685.37" y1="178.07" x2="685.37" y2="183.43" stroke="#f8303f" stroke-width="0.7"/><rect x="684.52" y="180.21" width="1.7" height="1.61" fill="#f8303f"/></g>
<g stroke="#f23645" stroke-width="1.8" fill="none" stroke-linecap="round"><line x1="703.7" y1="167.3" x2="711.4" y2="229.2"/><polyline points="700.9,220.7 711.4,229.2 719.9,218.1"/></g>
<text x="827.3" y="135.7" font-size="10" fill="#f5141c" text-anchor="start" font-weight="bold" textLength="42.7" lengthAdjust="spacingAndGlyphs">Stop Loss</text>
<text x="825.6" y="160.1" font-size="10" fill="#1c2fc1" text-anchor="start" font-weight="bold" textLength="44.4" lengthAdjust="spacingAndGlyphs">Sell Entry</text>
<text x="820.5" y="227.6" font-size="10" fill="#38761d" text-anchor="start" font-weight="bold" textLength="49.5" lengthAdjust="spacingAndGlyphs">Take Profit</text>
<text x="882" y="40.8" font-size="10" fill="#131722" text-anchor="start" font-weight="normal" textLength="43" lengthAdjust="spacingAndGlyphs">58,000.00</text>
<text x="882" y="77.57" font-size="10" fill="#131722" text-anchor="start" font-weight="normal" textLength="43" lengthAdjust="spacingAndGlyphs">57,000.00</text>
<text x="882" y="114.34" font-size="10" fill="#131722" text-anchor="start" font-weight="normal" textLength="43" lengthAdjust="spacingAndGlyphs">56,000.00</text>
<text x="882" y="151.11" font-size="10" fill="#131722" text-anchor="start" font-weight="normal" textLength="43" lengthAdjust="spacingAndGlyphs">55,000.00</text>
<text x="882" y="187.88" font-size="10" fill="#131722" text-anchor="start" font-weight="normal" textLength="43" lengthAdjust="spacingAndGlyphs">54,000.00</text>
<text x="882" y="224.65" font-size="10" fill="#131722" text-anchor="start" font-weight="normal" textLength="43" lengthAdjust="spacingAndGlyphs">53,000.00</text>
<text x="882" y="261.42" font-size="10" fill="#131722" text-anchor="start" font-weight="normal" textLength="43" lengthAdjust="spacingAndGlyphs">52,000.00</text>
<text x="882" y="298.19" font-size="10" fill="#131722" text-anchor="start" font-weight="normal" textLength="43" lengthAdjust="spacingAndGlyphs">51,000.00</text>
<text x="882" y="334.96" font-size="10" fill="#131722" text-anchor="start" font-weight="normal" textLength="43" lengthAdjust="spacingAndGlyphs">50,000.00</text>
<text x="882" y="371.73" font-size="10" fill="#131722" text-anchor="start" font-weight="normal" textLength="43" lengthAdjust="spacingAndGlyphs">49,000.00</text>
<text x="882" y="408.5" font-size="10" fill="#131722" text-anchor="start" font-weight="normal" textLength="43" lengthAdjust="spacingAndGlyphs">48,000.00</text>
<text x="882" y="445.27" font-size="10" fill="#131722" text-anchor="start" font-weight="normal" textLength="43" lengthAdjust="spacingAndGlyphs">47,000.00</text>
<text x="882" y="482.04" font-size="10" fill="#131722" text-anchor="start" font-weight="normal" textLength="43" lengthAdjust="spacingAndGlyphs">46,000.00</text>
<text x="882" y="518.81" font-size="10" fill="#131722" text-anchor="start" font-weight="normal" textLength="43" lengthAdjust="spacingAndGlyphs">45,000.00</text>
<rect x="876" y="134" width="53.5" height="14.599999999999994" rx="1" fill="#f5141c"/>
<text x="882" y="144.7" font-size="10" fill="#ffffff" text-anchor="start" font-weight="normal" textLength="43" lengthAdjust="spacingAndGlyphs">55,191.30</text>
<rect x="876" y="158.9" width="53.5" height="14.099999999999994" rx="1" fill="#0c1fc4"/>
<text x="882" y="169.35" font-size="10" fill="#ffffff" text-anchor="start" font-weight="normal" textLength="43" lengthAdjust="spacingAndGlyphs">54,522.81</text>
<rect x="876" y="174.6" width="53.5" height="14.200000000000017" rx="1" fill="#f23645"/>
<text x="882" y="185.1" font-size="10" fill="#ffffff" text-anchor="start" font-weight="normal" textLength="43" lengthAdjust="spacingAndGlyphs">54,081.66</text>
<rect x="876" y="225.7" width="53.5" height="14.300000000000011" rx="1" fill="#38761d"/>
<text x="882" y="236.25" font-size="10" fill="#ffffff" text-anchor="start" font-weight="normal" textLength="43" lengthAdjust="spacingAndGlyphs">52,703.89</text>
<rect x="877.7" y="2.7" width="51.6" height="16.2" rx="3" fill="#fff" stroke="#f1f2f5" stroke-width="1"/>
<text x="882.9" y="14.9" font-size="9" fill="#131722" text-anchor="start" font-weight="normal" textLength="12.3" lengthAdjust="spacingAndGlyphs">JPY</text>
<text x="0.5" y="541.4" font-size="10" fill="#131722" text-anchor="middle" font-weight="normal">6</text>
<text x="43.5" y="541.4" font-size="10" fill="#131722" text-anchor="middle" font-weight="normal" textLength="9.8" lengthAdjust="spacingAndGlyphs">11</text>
<text x="86.5" y="541.4" font-size="10" fill="#131722" text-anchor="middle" font-weight="normal" textLength="9.8" lengthAdjust="spacingAndGlyphs">14</text>
<text x="129.5" y="541.4" font-size="10" fill="#131722" text-anchor="middle" font-weight="normal" textLength="9.8" lengthAdjust="spacingAndGlyphs">19</text>
<text x="171.5" y="541.4" font-size="10" fill="#131722" text-anchor="middle" font-weight="normal" textLength="9.8" lengthAdjust="spacingAndGlyphs">24</text>
<text x="233.5" y="541.4" font-size="10" fill="#131722" text-anchor="middle" font-weight="normal" textLength="16.6" lengthAdjust="spacingAndGlyphs">Dec</text>
<text x="275.5" y="541.4" font-size="10" fill="#131722" text-anchor="middle" font-weight="normal">4</text>
<text x="318.5" y="541.4" font-size="10" fill="#131722" text-anchor="middle" font-weight="normal">9</text>
<text x="361.5" y="541.4" font-size="10" fill="#131722" text-anchor="middle" font-weight="normal" textLength="9.8" lengthAdjust="spacingAndGlyphs">12</text>
<text x="403.5" y="541.4" font-size="10" fill="#131722" text-anchor="middle" font-weight="normal" textLength="9.8" lengthAdjust="spacingAndGlyphs">17</text>
<text x="446.5" y="541.4" font-size="10" fill="#131722" text-anchor="middle" font-weight="normal" textLength="9.8" lengthAdjust="spacingAndGlyphs">22</text>
<text x="497.5" y="541.4" font-size="10" fill="#131722" text-anchor="middle" font-weight="normal" textLength="9.8" lengthAdjust="spacingAndGlyphs">28</text>
<text x="540.5" y="541.4" font-size="10" fill="#131722" text-anchor="middle" font-weight="bold" textLength="22" lengthAdjust="spacingAndGlyphs">2026</text>
<text x="583.5" y="541.4" font-size="10" fill="#131722" text-anchor="middle" font-weight="normal">7</text>
<text x="625.5" y="541.4" font-size="10" fill="#131722" text-anchor="middle" font-weight="normal" textLength="9.8" lengthAdjust="spacingAndGlyphs">12</text>
<text x="668.5" y="541.4" font-size="10" fill="#131722" text-anchor="middle" font-weight="normal" textLength="9.8" lengthAdjust="spacingAndGlyphs">15</text>
<text x="711.5" y="541.4" font-size="10" fill="#131722" text-anchor="middle" font-weight="normal" textLength="9.8" lengthAdjust="spacingAndGlyphs">20</text>
<text x="753.5" y="541.4" font-size="10" fill="#131722" text-anchor="middle" font-weight="normal" textLength="9.8" lengthAdjust="spacingAndGlyphs">23</text>
<text x="837.5" y="541.4" font-size="10" fill="#131722" text-anchor="middle" font-weight="normal" textLength="16.6" lengthAdjust="spacingAndGlyphs">Feb</text>
</svg></body></html>
